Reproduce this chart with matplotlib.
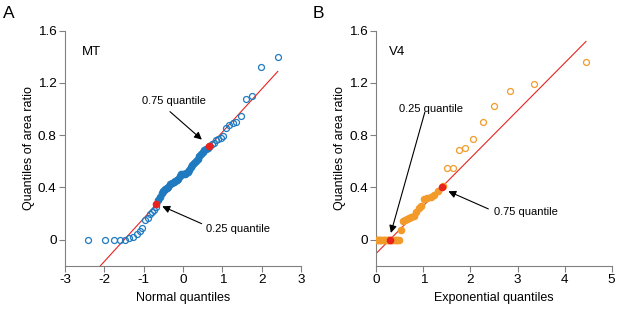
import matplotlib
matplotlib.use('Agg')
import matplotlib.pyplot as plt

plt.rcParams['font.family'] = ['Liberation Sans', 'DejaVu Sans']
plt.rcParams['axes.unicode_minus'] = False

# ---- MT panel (normal Q-Q) ----
mt_low_x = [-2.41, -1.98, -1.75, -1.59, -1.47, -1.36, -1.26, -1.18, -1.10, -1.03,
            -0.97, -0.90, -0.85, -0.79, -0.74, -0.69]
mt_low_y = [0.0, 0.0, 0.0, 0.0, 0.0, 0.01, 0.02, 0.045, 0.065, 0.085,
            0.15, 0.165, 0.195, 0.21, 0.23, 0.25]
mt_mid_x = [-0.64, -0.59, -0.54, -0.50, -0.45, -0.41, -0.37, -0.32, -0.28, -0.24,
            -0.20, -0.16, -0.12, -0.08, -0.04, 0.00, 0.04, 0.08, 0.12, 0.16,
            0.20, 0.24, 0.28, 0.32, 0.37, 0.41, 0.45, 0.50, 0.54, 0.59, 0.64]
mt_mid_y = [0.30, 0.33, 0.36, 0.375, 0.385, 0.395, 0.405, 0.425, 0.435, 0.44,
            0.45, 0.455, 0.465, 0.49, 0.50, 0.505, 0.505, 0.51, 0.52, 0.535,
            0.555, 0.57, 0.585, 0.60, 0.62, 0.64, 0.655, 0.67, 0.685, 0.695, 0.705]
mt_high_x = [0.69, 0.74, 0.79, 0.85, 0.90, 0.97, 1.03, 1.10, 1.18, 1.26,
             1.36, 1.47, 1.59, 1.75, 1.98, 2.41]
mt_high_y = [0.72, 0.73, 0.74, 0.765, 0.77, 0.78, 0.79, 0.855, 0.875, 0.89,
             0.90, 0.945, 1.08, 1.10, 1.32, 1.40]
mt_quart_x = [-0.674, 0.674]
mt_quart_y = [0.27, 0.715]

# ---- V4 panel (exponential Q-Q) ----
v4_low_x = [0.012, 0.036, 0.060, 0.085, 0.110, 0.137, 0.164, 0.192, 0.220, 0.250,
            0.280, 0.311, 0.343, 0.377, 0.411, 0.447, 0.484, 0.523, 0.563, 0.604,
            0.648, 0.693, 0.741, 0.791, 0.843, 0.899, 0.958, 1.020, 1.087, 1.159,
            1.235, 1.319, 1.410]
v4_low_y = [0.0, 0.0, 0.0, 0.0, 0.0, 0.0, 0.0, 0.0, 0.0, 0.0,
            0.0, 0.0, 0.0, 0.0, 0.0, 0.0, 0.0, 0.075, 0.14, 0.15,
            0.16, 0.165, 0.17, 0.18, 0.21, 0.24, 0.26, 0.31, 0.32, 0.33,
            0.345, 0.375, 0.41]
v4_high_x = [1.510, 1.621, 1.746, 1.889, 2.056, 2.257, 2.508, 2.845, 3.356, 4.454]
v4_high_y = [0.545, 0.551, 0.687, 0.702, 0.768, 0.899, 1.024, 1.141, 1.192, 1.361]
v4_quart_x = [0.288, 1.386]
v4_quart_y = [0.0, 0.40]

y_ticks = [0, 0.4, 0.8, 1.2, 1.6]
y_ticklabels = ['0', '0.4', '0.8', '1.2', '1.6']
mt_xticks = [-3, -2, -1, 0, 1, 2, 3]
v4_xticks = [0, 1, 2, 3, 4, 5]

BLUE = '#1f7ac0'
ORANGE = '#f29b2b'
RED = '#e8231f'
GRAY = '#808080'
NARROW = ['Liberation Sans Narrow', 'Liberation Sans']


def style_axes(ax, xticks, xlim, xlabel):
    for side in ('top', 'right'):
        ax.spines[side].set_visible(False)
    for side in ('left', 'bottom'):
        ax.spines[side].set_color(GRAY)
        ax.spines[side].set_linewidth(0.8)
    ax.set_xlim(*xlim)
    ax.set_ylim(-0.2, 1.6)
    ax.set_xticks(xticks)
    ax.set_xticklabels([str(t) for t in xticks])
    ax.set_yticks(y_ticks)
    ax.set_yticklabels(y_ticklabels)
    ax.tick_params(direction='out', length=4, width=0.8, color=GRAY,
                   labelsize=9.7, pad=2)
    ax.set_xlabel(xlabel, fontsize=9, labelpad=4)
    ax.set_ylabel('Quantiles of area ratio', fontsize=9, labelpad=2)


def ref_line(ax, qx, qy, x0, x1):
    slope = (qy[1] - qy[0]) / (qx[1] - qx[0])
    ax.plot([x0, x1], [qy[0] + slope * (x0 - qx[0]), qy[0] + slope * (x1 - qx[0])],
            color=RED, lw=0.8, zorder=1)


def arrow(ax, head, tail):
    ax.annotate('', xy=head, xytext=tail,
                arrowprops=dict(arrowstyle='-|>', color='k', lw=0.8,
                                mutation_scale=11, shrinkA=0, shrinkB=0))


fig = plt.figure(figsize=(6.17, 3.14), dpi=100)
axA = fig.add_axes([0.1053, 0.1538, 0.3825, 0.7484])
axB = fig.add_axes([0.6099, 0.1538, 0.3815, 0.7484])

# panel A
ref_line(axA, mt_quart_x, mt_quart_y, mt_low_x[0], mt_high_x[-1])
axA.plot(mt_low_x, mt_low_y, 'o', mfc='none', mec=BLUE, ms=4.3, mew=0.9, zorder=2)
axA.plot(mt_high_x, mt_high_y, 'o', mfc='none', mec=BLUE, ms=4.3, mew=0.9, zorder=2)
axA.plot(mt_mid_x, mt_mid_y, 'o', color=BLUE, ms=5.5, mew=0, zorder=3)
axA.plot(mt_quart_x, mt_quart_y, 'o', color=RED, ms=5.5, mew=0, zorder=4)
style_axes(axA, mt_xticks, (-3, 3), 'Normal quantiles')
axA.text(-2.57, 1.44, 'MT', fontsize=9.5, ha='left', va='center')
axA.text(-0.23, 1.06, '0.75 quantile', fontsize=8, family=NARROW, ha='center', va='center')
arrow(axA, (0.48, 0.766), (-0.33, 0.98))
axA.text(1.40, 0.082, '0.25 quantile', fontsize=8, family=NARROW, ha='center', va='center')
arrow(axA, (-0.526, 0.255), (0.475, 0.122))

# panel B
ref_line(axB, v4_quart_x, v4_quart_y, 0.0, v4_high_x[-1])
axB.plot(v4_high_x, v4_high_y, 'o', mfc='none', mec=ORANGE, ms=4.3, mew=0.9, zorder=2)
axB.plot(v4_low_x, v4_low_y, 'o', color=ORANGE, ms=5.5, mew=0, zorder=3)
axB.plot(v4_quart_x, v4_quart_y, 'o', color=RED, ms=5.5, mew=0, zorder=4)
style_axes(axB, v4_xticks, (0, 5), 'Exponential quantiles')
axB.text(0.27, 1.434, 'V4', fontsize=9.5, ha='left', va='center')
axB.text(1.16, 1.0, '0.25 quantile', fontsize=8, family=NARROW, ha='center', va='center')
arrow(axB, (0.31, 0.051), (1.03, 0.975))
axB.text(3.18, 0.209, '0.75 quantile', fontsize=8, family=NARROW, ha='center', va='center')
arrow(axB, (1.53, 0.37), (2.38, 0.235))

fig.text(3.3 / 617, 1 - 6 / 314, 'A', fontsize=12.5, ha='left', va='top')
fig.text(313 / 617, 1 - 6 / 314, 'B', fontsize=12.5, ha='left', va='top')

fig.savefig('out.png', dpi=100)
